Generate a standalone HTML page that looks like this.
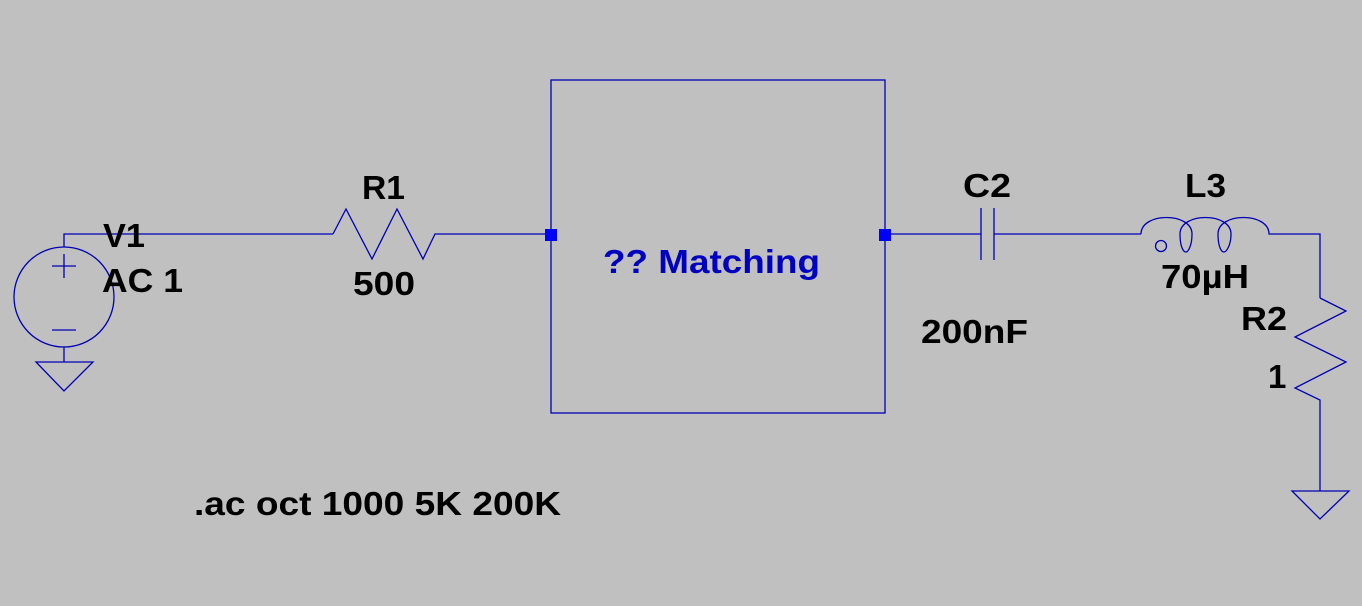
<!DOCTYPE html>
<html><head><meta charset="utf-8"><style>
html,body{margin:0;padding:0;background:#c0c0c0;}
svg{display:block}
text{font-family:"Liberation Sans",Arial,sans-serif;font-weight:bold;fill:#000;font-size:33px}
</style></head><body>
<svg width="1362" height="606" viewBox="0 0 1362 606" xmlns="http://www.w3.org/2000/svg">
<rect width="1362" height="606" fill="#c0c0c0"/>
<g fill="none" stroke="#0000b4" stroke-width="1.3">
<circle cx="64" cy="297" r="50"/>
<path d="M64 247V234H333"/>
<path d="M52 266H76M64 254V278M52 330H76"/>
<path d="M64 347V362M36 362H93L64 391Z"/>
<path d="M333 234L346 209L372 259L397 209L423 259L435 234H551"/>
<rect x="551" y="80" width="334" height="333"/>
<path d="M885 234H981M981 208V260M994 208V260M994 234H1141"/>
<path d="M1141 234C1141 212 1192 212 1192 234C1192 246 1188 252 1186 252C1183 252 1180 246 1180 234C1180 212 1231 212 1231 234C1231 246 1226 252 1224 252C1221 252 1218 246 1218 234C1218 212 1269 212 1269 234H1320V298"/>
<circle cx="1161" cy="246" r="5.5"/>
<path d="M1320 298L1346 311L1295 337L1346 362L1295 388L1320 400V491M1292 491H1349L1320 519Z"/>
</g>
<rect x="545" y="229" width="12" height="12" fill="#0000ff"/>
<rect x="879" y="229" width="12" height="12" fill="#0000ff"/>
<text x="103" y="247" textLength="42" lengthAdjust="spacingAndGlyphs">V1</text>
<text x="102" y="292" textLength="81" lengthAdjust="spacingAndGlyphs">AC 1</text>
<text x="362" y="199" textLength="43" lengthAdjust="spacingAndGlyphs">R1</text>
<text x="353" y="295" textLength="62" lengthAdjust="spacingAndGlyphs">500</text>
<text x="603" y="273" font-size="37" style="fill:#0000c0" textLength="217" lengthAdjust="spacingAndGlyphs">?? Matching</text>
<text x="963" y="197" textLength="48" lengthAdjust="spacingAndGlyphs">C2</text>
<text x="1185" y="197" textLength="41" lengthAdjust="spacingAndGlyphs">L3</text>
<text x="1161" y="288" textLength="88" lengthAdjust="spacingAndGlyphs">70µH</text>
<text x="921" y="343" textLength="107" lengthAdjust="spacingAndGlyphs">200nF</text>
<text x="1241" y="330" textLength="46" lengthAdjust="spacingAndGlyphs">R2</text>
<text x="1268" y="388">1</text>
<text x="194" y="515" textLength="367" lengthAdjust="spacingAndGlyphs">.ac oct 1000 5K 200K</text>
</svg>
</body></html>
